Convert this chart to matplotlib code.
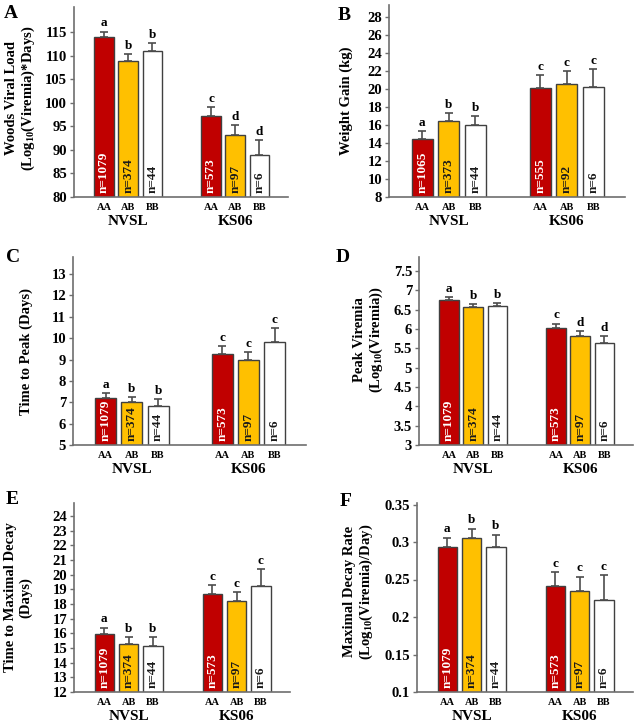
import matplotlib
matplotlib.use("Agg")
import matplotlib.pyplot as plt
import numpy as np

plt.rcParams["font.family"] = ["Liberation Serif", "DejaVu Serif"]
plt.rcParams["font.weight"] = "bold"
plt.rcParams["axes.labelweight"] = "bold"
plt.rcParams["mathtext.fontset"] = "custom"
plt.rcParams["mathtext.rm"] = "Liberation Serif:bold"
plt.rcParams["mathtext.bf"] = "Liberation Serif:bold"
plt.rcParams["mathtext.default"] = "rm"

# data: order is NVSL AA, AB, BB then KS06 AA, AB, BB
genotypes = ["AA", "AB", "BB"]
strains = ["NVSL", "KS06"]
bar_colors = ["#c00000", "#ffc000", "#ffffff"]

n_main = [1079, 374, 44, 573, 97, 6]
n_weight = [1065, 373, 44, 555, 92, 6]

woods_load = [113.9, 108.9, 111.0, 97.2, 93.2, 88.9]
woods_err = [1.2, 1.4, 1.7, 1.9, 2.0, 3.2]
woods_letters = ["a", "b", "b", "c", "d", "d"]

weight_gain = [14.4, 16.4, 16.0, 20.1, 20.5, 20.2]
weight_err = [0.9, 0.9, 1.0, 1.4, 1.5, 2.0]
weight_letters = ["a", "b", "b", "c", "c", "c"]

time_peak = [7.22, 7.01, 6.81, 9.27, 8.98, 9.82]
time_peak_err = [0.23, 0.25, 0.33, 0.38, 0.37, 0.64]
time_peak_letters = ["a", "b", "b", "c", "c", "c"]

peak_viremia = [6.75, 6.57, 6.59, 6.03, 5.83, 5.63]
peak_viremia_err = [0.07, 0.08, 0.09, 0.11, 0.12, 0.18]
peak_viremia_letters = ["a", "b", "b", "c", "d", "d"]

time_decay = [15.95, 15.27, 15.13, 18.69, 18.22, 19.26]
time_decay_err = [0.45, 0.45, 0.59, 0.61, 0.63, 1.13]
time_decay_letters = ["a", "b", "b", "c", "c", "c"]

decay_rate = [0.294, 0.305, 0.294, 0.242, 0.235, 0.223]
decay_rate_err = [0.012, 0.013, 0.016, 0.018, 0.019, 0.033]
decay_rate_letters = ["a", "b", "b", "c", "c", "c"]

W, H = 638, 727
fig = plt.figure(figsize=(W / 100, H / 100), dpi=100)

x = np.array([0, 1, 2, 4.45, 5.45, 6.45])
group_centers = [x[:3].mean(), x[3:].mean()]


def add_panel(box, letter, letter_xy, values, errors, counts, letters,
              ylim, yticks, ylabel, label_pos):
    left, right, top, bottom = box
    ax = fig.add_axes([left / W, 1 - bottom / H, (right - left) / W, (bottom - top) / H])
    ax.bar(x, values, width=0.8, color=bar_colors * 2, edgecolor="#404040",
           linewidth=1.0, zorder=2)
    ax.errorbar(x, values, yerr=[np.zeros(len(errors)), errors], fmt="none",
                ecolor="#4d4d4d", elinewidth=1.2, capsize=3, capthick=1.2, zorder=3)
    for xi, v, e, let in zip(x, values, errors, letters):
        ax.annotate(let, (xi, v + e), xytext=(0, 1.5), textcoords="offset points",
                    ha="center", va="bottom", fontsize=9.5, fontweight="bold")
    for i, (xi, n) in enumerate(zip(x, counts)):
        ax.annotate(f"n={n}", (xi, 0), xycoords=("data", "axes fraction"),
                    xytext=(0, 3), textcoords="offset points", rotation=90,
                    ha="center", va="bottom", fontsize=9.5, fontweight="bold",
                    color="white" if i % 3 == 0 else "#1a1a1a")
    for xi, g in zip(x, genotypes * 2):
        ax.annotate(g, (xi, 0), xycoords=("data", "axes fraction"),
                    xytext=(0, -7.5), textcoords="offset points",
                    ha="center", va="center", fontsize=7.5, fontweight="bold")
    for xc, s in zip(group_centers, strains):
        ax.annotate(s, (xc, 0), xycoords=("data", "axes fraction"),
                    xytext=(0, -17.5), textcoords="offset points",
                    ha="center", va="center", fontsize=11, fontweight="bold")

    ax.set_xlim(-1.25, 7.65)
    ax.set_ylim(*ylim)
    ax.set_yticks(yticks)
    ax.set_yticklabels([f"{t:g}" for t in yticks], fontweight="bold")
    ax.set_xticks([])
    for side in ["top", "right"]:
        ax.spines[side].set_visible(False)
    for side in ["left", "bottom"]:
        ax.spines[side].set_color("#6e6e6e")
        ax.spines[side].set_linewidth(1.2)
    ax.tick_params(axis="y", length=3, width=1, color="#6e6e6e", pad=2,
                   labelsize=10.5)
    ax.set_ylabel(ylabel, fontsize=10.5, fontweight="bold", linespacing=1.15)
    ax.yaxis.set_label_coords(*label_pos)
    fig.text(letter_xy[0] / W, 1 - letter_xy[1] / H, letter, fontsize=14,
             fontweight="bold", ha="center", va="center")
    return ax


add_panel((74, 288, 7, 197), "A", (11, 14), woods_load, woods_err, n_main,
          woods_letters, (80, 120.3), np.arange(80, 116, 5),
          "Woods Viral Load\n(Log$_{10}$(Viremia)*Days)", (-0.172, 0.52))
add_panel((389, 625, 5, 197), "B", (344, 15), weight_gain, weight_err, n_weight,
          weight_letters, (8, 29.3), np.arange(8, 29, 2),
          "Weight Gain (kg)", (-0.153, 0.5))
add_panel((73, 306, 257, 445), "C", (13, 258), time_peak, time_peak_err, n_main,
          time_peak_letters, (5, 13.8), np.arange(5, 14, 1),
          "Time to Peak (Days)", (-0.172, 0.5))
add_panel((419, 633, 257, 445), "D", (343, 258), peak_viremia, peak_viremia_err,
          n_main, peak_viremia_letters, (3, 7.86), np.arange(3, 7.51, 0.5),
          "Peak Viremia\n(Log$_{10}$(Viremia))", (-0.159, 0.56))
add_panel((74, 290, 503, 692), "E", (12, 500), time_decay, time_decay_err, n_main,
          time_decay_letters, (12, 24.9), np.arange(12, 25, 1),
          "Time to Maximal Decay\n(Days)", (-0.194, 0.5))
add_panel((417, 633, 503, 692), "F", (346, 501), decay_rate, decay_rate_err,
          n_main, decay_rate_letters, (0.1, 0.352), np.arange(0.1, 0.351, 0.05),
          "Maximal Decay Rate\n(Log$_{10}$(Viremia)/Day)", (-0.194, 0.53))

fig.savefig("out.png", dpi=100)
